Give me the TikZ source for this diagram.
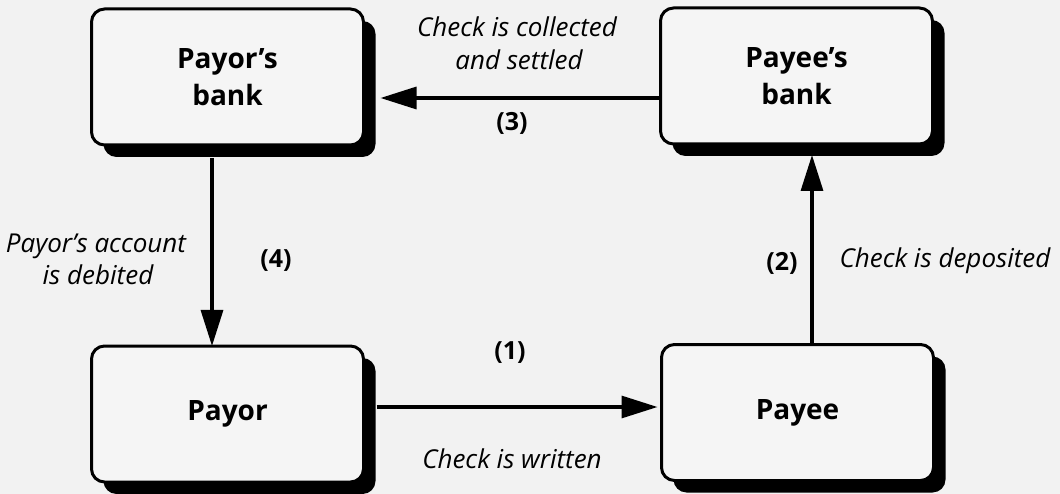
\documentclass[tikz,border=0pt]{standalone}
\usepackage{fontspec}
\setmainfont{Open Sans}
\usetikzlibrary{arrows.meta,shadows}
\begin{document}
\begin{tikzpicture}[x=1pt,y=-1pt,
  party/.style={draw=black, line width=3pt, rounded corners=13pt, fill=black!4,
    minimum width=272pt, minimum height=136pt, inner sep=0pt, outer sep=0pt, align=center,
    font=\fontsize{28}{37}\selectfont\bfseries,
    drop shadow={shadow xshift=12pt, shadow yshift=-12pt, fill=black, opacity=1}},
  flow/.style={line width=3.2pt, -{Triangle[length=36pt,width=22pt]}},
  note/.style={font=\fontsize{26}{32}\selectfont\itshape, inner sep=0pt, anchor=base},
  stepno/.style={font=\fontsize{25}{30}\selectfont\bfseries, inner sep=0pt}]
  % page and backdrop
  \fill[black!5] (0,0) rectangle (1060,494);
  \useasboundingbox (0,0) rectangle (1060,494);

  % the four parties
  \node[party] (orbank) at (227.5,77)   {Payor's\\bank};
  \node[party] (eebank) at (796.5,76)   {Payee's\\bank};
  \node[party] (payor)  at (227.5,414)  {Payor};
  \node[party] (payee)  at (797.5,412.5){Payee};

  % flows of the check
  \draw[flow] ([xshift=13pt,yshift=7pt]payor.east) -- ([xshift=-4pt,yshift=5.5pt]payee.west);
  \draw[flow] ([xshift=14.5pt]payee.north) -- ([xshift=15.5pt,yshift=-11pt]eebank.south);
  \draw[flow] ([yshift=-22pt]eebank.west) -- ([xshift=17pt,yshift=-21pt]orbank.east);
  \draw[flow] ([xshift=-15.5pt,yshift=-13pt]orbank.south) -- ([xshift=-15.5pt]payor.north);

  % step numbers
  \node[stepno] (s1) at (510,353) {(1)};
  \node[stepno] (s2) at (782,263) {(2)};
  \node[stepno] (s3) at (512,123) {(3)};
  \node[stepno] (s4) at (276,261) {(4)};

  % descriptions
  \node[note] (d1)  at (512,468) {Check is written};
  \node[note] (d2)  at (945,268) {Check is deposited};
  \node[note] (d3a) at (517,37)  {Check is collected};
  \node[note] (d3b) at (519,70)  {and settled};
  \node[note] (d4a) at (96,253)  {Payor's account};
  \node[note] (d4b) at (98,285)  {is debited};
\end{tikzpicture}
\end{document}
